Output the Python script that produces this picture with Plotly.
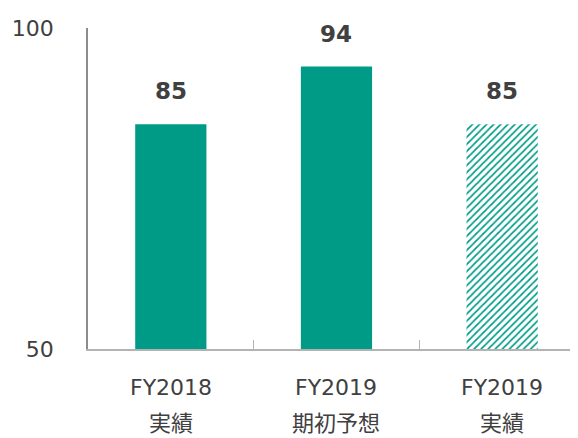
import plotly.graph_objects as go

fy_labels = ["FY2018", "FY2019", "FY2019"]
jp_labels = ["実績", "期初予想", "実績"]
categories = ["FY2018 実績", "FY2019 期初予想", "FY2019 実績"]
values = [85, 94, 85]
patterns = ["", "", "/"]
y_ticks = [50, 100]

teal = "#009B86"
txt = "#404040"
font_family = "'DejaVu Sans', Verdana, 'Noto Sans CJK JP', sans-serif"
jp_family = "'Noto Sans CJK JP', sans-serif"

fig = go.Figure()
fig.add_trace(go.Bar(
    x=categories, y=values, width=0.43,
    marker=dict(color=teal, line=dict(width=0),
                pattern=dict(shape=patterns, fgcolor=teal, bgcolor="white",
                             size=5, solidity=0.34, fillmode="replace")),
    hoverinfo="skip",
))

for c, v in zip(categories, values):
    fig.add_annotation(x=c, y=v, text=f"<b>{v}</b>", showarrow=False,
                       yanchor="bottom", yshift=18,
                       font=dict(size=23, color=txt, family=font_family))

for c, fy, jp in zip(categories, fy_labels, jp_labels):
    fig.add_annotation(x=c, y=0, yref="paper", text=fy, showarrow=False,
                       yanchor="top", yshift=-24,
                       font=dict(size=22, color=txt, family=font_family))
    fig.add_annotation(x=c, y=0, yref="paper", text=jp, showarrow=False,
                       yanchor="top", yshift=-54,
                       font=dict(size=22, color=txt, family=jp_family))

fig.update_layout(
    width=570, height=430,
    margin=dict(l=80, r=0, t=20, b=89),
    plot_bgcolor="white", paper_bgcolor="white",
    showlegend=False,
    font=dict(family=font_family, size=22, color=txt),
)
fig.update_xaxes(
    type="category", range=[-0.5, 2.458], automargin=False,
    showline=True, linecolor="#B3B3B3", linewidth=2,
    ticks="inside", tickson="boundaries", ticklen=9, tickcolor="#B3B3B3",
    showgrid=False, showticklabels=False,
)
fig.update_yaxes(
    range=[50, 100], tickvals=y_ticks, automargin=False,
    showline=True, linecolor="#8C8C8C", linewidth=1.5,
    ticks="inside", ticklen=9, tickcolor="#8C8C8C",
    showgrid=False, zeroline=False,
    tickfont=dict(size=22, color=txt, family=font_family),
    ticklabelstandoff=28,
)

fig.write_html("out.html")
